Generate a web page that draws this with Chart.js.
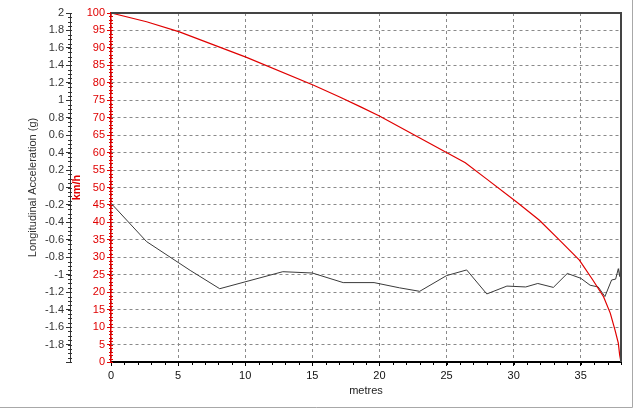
<!DOCTYPE html>
<html>
<head>
<meta charset="utf-8">
<script src="https://cdn.jsdelivr.net/npm/chart.js@4/dist/chart.umd.min.js"></script>
<style>
html,body{margin:0;padding:0;background:#fff;}
#wrap{width:640px;height:409px;position:relative;}
</style>
</head>
<body>
<div id="wrap"><canvas id="c" width="640" height="409"></canvas></div>
<script>
// speed trace (km/h) against distance (m)
const speedX = [0, 2.65, 5.1, 10.1, 15.1, 17.0, 18.6, 20.0, 25.1, 26.4, 28.0, 30.2, 31.9, 33.4, 34.9, 35.9, 36.7, 37.2, 37.55, 37.8, 37.9, 38.0];
const speedY = [100, 97.5, 94.6, 87.3, 79.3, 76.0, 73.1, 70.5, 59.8, 57.1, 52.4, 45.9, 40.7, 35.0, 29.2, 23.5, 18.7, 14.0, 9.2, 5.4, 2.0, 0];

// longitudinal acceleration (g) against distance (m)
const accX = [0, 2.65, 5.9, 8.1, 12.8, 15.0, 17.3, 19.6, 21.5, 23.0, 25.0, 26.5, 28.0, 29.5, 30.9, 31.8, 32.96, 34.0, 35.0, 35.7, 36.3, 36.8, 37.3, 37.6, 37.8, 37.9, 38.0];
const accY = [-0.18, -0.62, -0.95, -1.16, -0.965, -0.98, -1.09, -1.09, -1.15, -1.19, -1.01, -0.945, -1.22, -1.13, -1.14, -1.10, -1.145, -0.985, -1.04, -1.12, -1.14, -1.25, -1.06, -1.05, -0.93, -1.02, -0.85];

const FONT = "'Liberation Sans', Arial, sans-serif";
const RED = '#e00000';

const pts = (xs, ys) => xs.map((x,i)=>({x:x, y:ys[i]}));

// minor ticks, plot frame and panel edge
const decor = {
    id:'decor',
    afterDraw(chart){
        const ctx = chart.ctx, a = chart.chartArea;
        const sx = chart.scales.x, sg = chart.scales.g, sv = chart.scales.v;
        ctx.save();
        ctx.lineWidth = 1;
        // x minor ticks every 1 m
        ctx.strokeStyle = '#000';
        ctx.beginPath();
        for(let m=0; m<=38; m++){
            const px = Math.round(sx.getPixelForValue(m))+0.5;
            ctx.moveTo(px, a.bottom); ctx.lineTo(px, a.bottom+3);
        }
        ctx.stroke();
        // accel minor ticks every 0.05 g
        ctx.strokeStyle = '#333';
        ctx.beginPath();
        for(let k=-40; k<=40; k++){
            const py = Math.round(sg.getPixelForValue(k*0.05))+0.5;
            ctx.moveTo(sg.right-2, py); ctx.lineTo(sg.right+2, py);
        }
        ctx.stroke();
        // km/h minor ticks every 1
        ctx.strokeStyle = RED;
        ctx.beginPath();
        for(let k=0; k<=100; k++){
            const py = Math.round(sv.getPixelForValue(k))+0.5;
            ctx.moveTo(sv.right-2, py); ctx.lineTo(sv.right+2, py);
        }
        ctx.stroke();
        // top and right frame
        ctx.strokeStyle = '#444';
        ctx.lineWidth = 2;
        ctx.beginPath();
        ctx.moveTo(a.left, a.top); ctx.lineTo(a.right, a.top); ctx.lineTo(a.right, a.bottom);
        ctx.stroke();
        // panel edge
        ctx.strokeStyle = '#a8a8a8';
        ctx.lineWidth = 1;
        ctx.beginPath();
        ctx.moveTo(632.5, 0); ctx.lineTo(632.5, 407.5); ctx.lineTo(0, 407.5);
        ctx.stroke();
        ctx.restore();
    }
};

new Chart(document.getElementById('c'), {
    type:'line',
    data:{
        datasets:[
            {data:pts(speedX, speedY), yAxisID:'v', borderColor:RED, borderWidth:1.2, pointRadius:0, tension:0},
            {data:pts(accX, accY), yAxisID:'g', borderColor:'#3a3a3a', borderWidth:1, pointRadius:0, tension:0}
        ]
    },
    options:{
        responsive:false,
        animation:false,
        events:[],
        layout:{padding:{left:24, right:19, top:13, bottom:11}},
        plugins:{legend:{display:false}, tooltip:{enabled:false}},
        scales:{
            x:{
                type:'linear', min:0, max:38,
                afterBuildTicks: s => { s.ticks = s.ticks.filter(t => Math.abs(t.value % 5) < 1e-6); },
                afterFit: s => { s.height = 36; },
                ticks:{stepSize:5, color:'#111', font:{family:FONT, size:11}, padding:3, maxRotation:0},
                grid:{color:'#8a8a8a', tickColor:'#000', tickLength:4},
                border:{color:'#000', width:2, dash:[3,3]},
                title:{display:true, text:'metres', color:'#222', font:{family:FONT, size:11}, padding:{top:2, bottom:0}}
            },
            v:{
                type:'linear', position:'left', weight:1, min:0, max:100,
                afterFit: s => { s.width = 41; },
                ticks:{stepSize:5, color:RED, font:{family:FONT, size:11}, padding:2},
                grid:{color:'#8a8a8a', tickColor:RED, tickLength:4},
                border:{color:RED, width:1.5, dash:[3,3]},
                title:{display:true, text:'km/h', color:RED, font:{family:FONT, size:11, weight:'bold'}, padding:0}
            },
            g:{
                type:'linear', position:'left', weight:2, min:-2, max:2,
                afterFit: s => { s.width = 46; },
                ticks:{stepSize:0.2, color:'#333', font:{family:FONT, size:11}, padding:2,
                    callback: v => { const r = Math.round(v*10)/10; return r === -2 ? '' : String(r); }},
                grid:{drawOnChartArea:false, tickColor:'#333', tickLength:4},
                border:{color:'#333', width:1},
                title:{display:true, text:'Longitudinal Acceleration (g)', color:'#333', font:{family:FONT, size:11}, padding:2}
            }
        }
    },
    plugins:[decor]
});
</script>
</body>
</html>
